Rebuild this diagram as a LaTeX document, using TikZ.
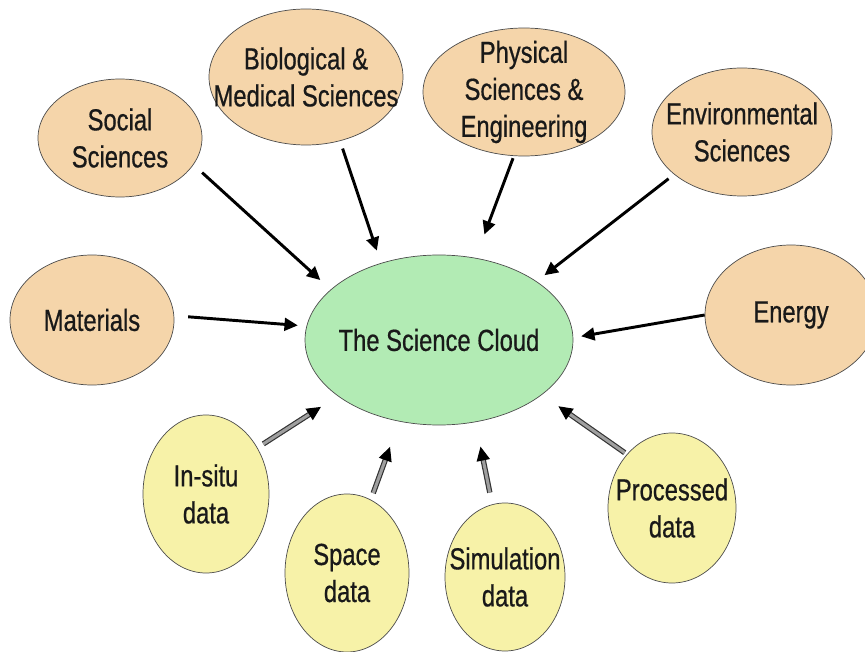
\documentclass[tikz,border=0pt]{standalone}
\usepackage{fontspec}
\setmainfont{Liberation Sans}[FakeStretch=0.78,FakeBold=0.6]
\usetikzlibrary{arrows.meta,shapes.geometric}
\definecolor{topicorange}{HTML}{F5D5AA}
\definecolor{cloudgreen}{HTML}{B2EBB4}
\definecolor{datayellow}{HTML}{F7F2A8}
\begin{document}
\begin{tikzpicture}[x=0.03cm,y=-0.03cm,
  every node/.style={font=\fontsize{26}{31.6}\selectfont},
  every label/.style={align=center,inner sep=0pt,text=black!90},
  radii/.style 2 args={minimum width=#1*0.06cm,minimum height=#2*0.06cm},
  blob/.style={ellipse,draw=black!70,line width=0.6pt,inner sep=0pt},
  topic/.style={blob,fill=topicorange},
  source/.style={blob,fill=datayellow},
  feed/.style={line width=2.5pt,-{Triangle[length=0.4cm,width=0.38cm]}},
  dfeed/.style={draw=black!80,line width=1pt,double=gray!75,double distance=2.6pt,
    -{Triangle[length=0.42cm,width=0.4cm,color=black]}}]
\clip (0,0) rectangle (865,652);
% the cloud
\node[blob,fill=cloudgreen,radii={134}{85},label={center:The Science Cloud}] (cloud) at (439,340) {};
% domains
\node[topic,radii={82}{59},label={center:Social\\Sciences}] (soc) at (120,138) {};
\node[topic,radii={97}{68},label={center:Biological \&\\Medical Sciences}] (bio) at (306,77) {};
\node[topic,radii={101}{64},label={center:Physical\\Sciences \&\\Engineering}] (phys) at (524,92) {};
\node[topic,radii={90}{64},label={center:Environmental\\Sciences}] (env) at (742,132) {};
\node[topic,radii={82}{65},label={center:Materials}] (mat) at (92,320) {};
\node[topic,radii={86}{70},label={center:Energy}] (energy) at (791,315) {};
% data
\node[source,radii={63}{79},label={center:In-situ\\data}] (insitu) at (206,494) {};
\node[source,radii={62}{79},label={center:Space\\data}] (space) at (347,573) {};
\node[source,radii={60}{74},label={center:Simulation\\data}] (sim) at (505,577) {};
\node[source,radii={64}{75},label={center:Processed\\data}] (proc) at (672,508) {};
% arrows
\draw[feed,shorten <=0.35cm,shorten >=0.42cm] (soc.-20) -- (cloud.155);
\draw[feed,shorten <=0.24cm,shorten >=0.39cm] (bio.-62.5) -- (cloud.127.6);
\draw[feed,shorten <=0.07cm,shorten >=0.75cm] (phys.-99.5) -- (cloud.66.8);
\draw[feed,shorten <=0.21cm,shorten >=0.30cm] (env.-148) -- (cloud.31);
\draw[feed,shorten <=0.42cm,shorten >=0.26cm] (mat.3) -- (cloud.174.3);
\draw[feed,shorten >=0.24cm] (energy.180.7) -- (cloud.1.6);
\draw[dfeed,shorten <=0.21cm,shorten >=0.60cm] (insitu.42.3) -- (cloud.-151.4);
\draw[dfeed,shorten <=0.21cm,shorten >=0.81cm] (space.72) -- (cloud.-116.3);
\draw[dfeed,shorten <=0.36cm,shorten >=0.75cm] (sim.100) -- (cloud.-66.3);
\draw[dfeed,shorten <=0.08cm,shorten >=0.60cm] (proc.130.5) -- (cloud.-28.6);
\end{tikzpicture}
\end{document}
